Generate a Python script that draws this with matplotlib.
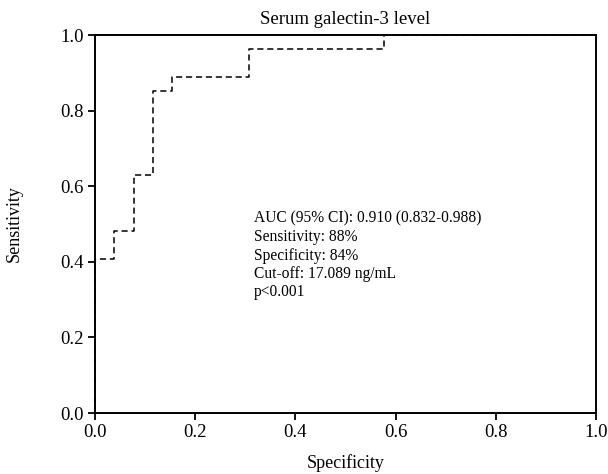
import matplotlib
matplotlib.use("Agg")
import matplotlib.pyplot as plt

# ROC step curve (false positive rate, sensitivity)
fpr = [0.0, 0.0, 0.038, 0.038, 0.077, 0.077, 0.115, 0.115, 0.154, 0.154, 0.308, 0.308, 0.577, 0.577, 1.0]
tpr = [0.0, 0.407, 0.407, 0.481, 0.481, 0.630, 0.630, 0.852, 0.852, 0.889, 0.889, 0.963, 0.963, 1.0, 1.0]
ticks = [0.0, 0.2, 0.4, 0.6, 0.8, 1.0]
tick_labels = ["0.0", "0.2", "0.4", "0.6", "0.8", "1.0"]
annotation = ["AUC (95% CI): 0.910 (0.832-0.988)", "Sensitivity: 88%", "Specificity: 84%",
              "Cut-off: 17.089 ng/mL", "p<0.001"]

plt.rcParams['font.family'] = ['Liberation Serif', 'DejaVu Serif']

fig = plt.figure(figsize=(6.08, 4.74), dpi=100)
ax = fig.add_axes([95/608, 1-413/474, (596-95)/608, (413-35)/474])

ax.plot(fpr, tpr, color='black', linestyle=(0, (4, 2.5)), linewidth=1.1, clip_on=False)
ax.set_xlim(0, 1)
ax.set_ylim(0, 1)
ax.set_xticks(ticks)
ax.set_xticklabels(tick_labels)
ax.set_yticks(ticks)
ax.set_yticklabels(tick_labels)
ax.tick_params(direction='out', length=5, width=1.3, labelsize=13.5, color='black', pad=3)
for s in ax.spines.values():
    s.set_linewidth(1.4)
ax.set_xlabel("Specificity", fontsize=13)
ax.set_ylabel("Sensitivity", fontsize=13)
ax.xaxis.set_label_coords(0.5, -0.108)
ax.yaxis.set_label_coords(-0.144, 0.5)
ax.set_title("Serum galectin-3 level", fontsize=13.5, pad=7.7)

ax.text(0.317, 0.535, "\n".join(annotation), fontsize=11.2, va='top', ha='left',
        linespacing=1.2, transform=ax.transData)

fig.savefig("out.png", dpi=100)
